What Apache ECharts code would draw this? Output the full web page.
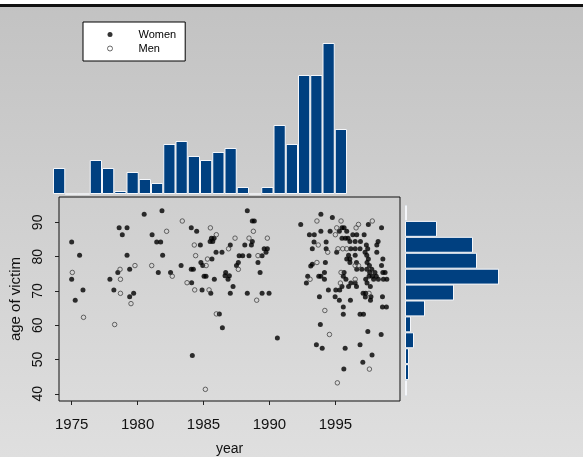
<!DOCTYPE html>
<html>
<head>
<meta charset="utf-8">
<script src="https://cdn.jsdelivr.net/npm/echarts@6/dist/echarts.min.js"></script>
<style>
  html, body { margin: 0; padding: 0; background: #d0d0d0; }
  #chart { width: 583px; height: 457px; }
</style>
</head>
<body>
<div id="chart"></div>
<script>
// year / age ticks
const yearTicks = [1975, 1980, 1985, 1990, 1995];
const ageTicks = [40, 50, 60, 70, 80, 90];

// top histogram: victims per year bin (relative height)
const yearBins = ['1', '2', '3', '4', '5', '6', '7', '8', '9', '10', '11', '12',
  '13', '14', '15', '16', '17', '18', '19', '20', '21', '22', '23', '24'];
const yearHist = [26, 0, 0, 34, 26, 3, 22, 15, 11, 50, 53, 38, 34, 42, 46, 7, 0, 7, 69, 50, 119, 119, 151, 65];

// right histogram: victims per age bin, bottom (young) to top (old)
const ageBins = ['1', '2', '3', '4', '5', '6', '7', '8', '9', '10', '11', '12'];
const ageHist = [2, 4, 4, 9, 6, 20, 49, 94, 72, 68, 32, 2];

// [year, age]
const women = [
  [1980.5, 92.4], [1981.85, 93.4], [1978.6, 88.4], [1979.2, 88.4], [1978.84, 86.4], [1981.1, 86.4],
  [1981.45, 84.3], [1981.75, 84.3], [1975.0, 84.3], [1975.6, 80.4], [1979.2, 80.4], [1981.9, 80.4],
  [1978.5, 75.4], [1979.4, 76.3], [1981.57, 75.4], [1982.5, 75.4], [1975.0, 73.4], [1977.9, 73.4],
  [1975.86, 70.3], [1978.2, 70.3], [1979.7, 69.3], [1979.4, 68.3], [1975.27, 67.3],
  [1988.32, 93.4], [1988.7, 90.4], [1988.85, 90.4], [1984.07, 88.4], [1984.48, 87.4], [1985.6, 85.4],
  [1985.8, 85.4], [1985.5, 84.4], [1985.7, 84.4], [1988.7, 84.4], [1984.76, 83.4], [1987.03, 83.4],
  [1988.13, 83.4], [1988.63, 83.4], [1989.6, 82.3], [1989.84, 82.3], [1985.95, 81.3], [1986.4, 81.3],
  [1989.74, 81.3], [1987.7, 80.3], [1987.97, 80.3], [1988.45, 80.3], [1989.44, 80.3], [1985.64, 79.3],
  [1987.64, 78.3], [1989.13, 78.3], [1984.8, 78.3], [1984.94, 77.4], [1987.5, 77.4], [1983.3, 77.4],
  [1984.07, 76.3], [1984.23, 76.3], [1986.68, 75.4], [1986.96, 74.4], [1986.63, 74.4], [1989.29, 75.4],
  [1985.04, 74.3], [1985.19, 74.3], [1985.82, 73.4], [1986.86, 73.4], [1984.1, 72.4], [1987.24, 71.3],
  [1984.89, 70.3], [1985.55, 69.3], [1987.03, 69.3], [1988.32, 69.3], [1989.44, 69.3], [1989.97, 69.3],
  [1986.2, 63.3], [1986.43, 59.3], [1990.6, 56.3], [1984.15, 51.2],
  [1992.37, 89.4], [1993.9, 92.4], [1994.77, 91.4], [1993.03, 86.4], [1993.4, 86.4], [1993.9, 87.4],
  [1994.6, 87.4], [1995.3, 87.4], [1995.5, 88.4], [1995.66, 88.4], [1993.38, 84.3], [1994.3, 84.3],
  [1993.25, 82.3], [1994.3, 82.3], [1995.1, 81.3], [1994.24, 78.3], [1993.13, 77.3], [1993.25, 77.8],
  [1994.17, 75.4], [1993.74, 74.3], [1993.9, 74.3], [1992.9, 74.3], [1994.17, 73.4], [1992.8, 72.3],
  [1995.6, 74.3], [1994.47, 70.3], [1995.03, 70.3], [1995.33, 70.3], [1993.79, 68.3], [1994.98, 68.3],
  [1997.5, 89.4], [1998.5, 88.4], [1995.86, 87.4], [1996.32, 86.4], [1996.62, 86.4], [1997.18, 86.4],
  [1995.5, 85.4], [1995.76, 85.4], [1995.96, 85.4], [1996.1, 84.4], [1996.5, 84.4], [1996.9, 84.4],
  [1998.24, 84.4], [1997.35, 83.4], [1998.14, 83.4], [1996.17, 82.3], [1996.5, 82.3], [1996.87, 82.3],
  [1997.25, 81.3], [1998.14, 81.3], [1996.0, 80.4], [1996.5, 80.4], [1997.38, 80.4], [1997.5, 79.3],
  [1995.86, 79.3], [1996.1, 79.3], [1998.6, 79.3], [1996.1, 78.3], [1996.6, 78.3], [1997.4, 78.3],
  [1997.58, 77.4], [1998.5, 77.4], [1995.66, 75.4], [1996.62, 76.3], [1997.0, 76.3], [1997.38, 76.3],
  [1997.76, 76.3], [1997.6, 75.4], [1998.0, 75.4], [1998.6, 75.4], [1998.77, 75.4], [1997.8, 74.3],
  [1998.1, 74.3], [1995.8, 73.4], [1997.9, 73.4], [1998.26, 73.4], [1998.64, 73.4], [1998.9, 73.4],
  [1996.17, 72.3], [1996.5, 72.3], [1995.5, 71.3], [1996.0, 71.3], [1996.6, 71.3], [1997.1, 69.3],
  [1997.3, 69.3], [1998.57, 68.3], [1997.7, 68.3], [1997.45, 82.3], [1997.3, 73.4], [1997.55, 74.3],
  [1997.4, 72.3], [1997.65, 71.3],
  [1995.3, 67.3], [1996.14, 67.3], [1997.27, 68.2], [1997.66, 67.3], [1995.6, 65.3], [1995.6, 63.2],
  [1996.87, 63.2], [1997.13, 63.2], [1998.57, 65.3], [1998.87, 65.3], [1993.86, 60.2], [1997.46, 58.2],
  [1998.47, 57.3], [1993.56, 54.3], [1994.0, 53.3], [1995.74, 53.3], [1996.87, 54.3], [1997.78, 51.3],
  [1997.08, 49.2], [1995.64, 47.2]
];

const men = [
  [1982.2, 87.4], [1975.05, 75.4], [1978.67, 76.3], [1979.8, 77.4], [1981.07, 77.4], [1982.63, 74.3],
  [1978.7, 73.4], [1978.7, 69.3], [1979.5, 66.3], [1975.9, 62.3], [1978.26, 60.2],
  [1983.39, 90.4], [1985.52, 88.4], [1988.78, 87.4], [1985.97, 86.4], [1987.39, 85.4], [1988.45, 85.4],
  [1989.84, 85.4], [1984.3, 83.4], [1986.9, 82.3], [1984.4, 80.3], [1989.13, 80.3], [1985.3, 79.3],
  [1985.2, 77.4], [1987.64, 76.3], [1983.75, 72.4], [1984.33, 70.3], [1985.42, 70.3], [1989.03, 67.3],
  [1985.97, 63.3], [1985.14, 41.3],
  [1993.6, 90.4], [1995.43, 90.4], [1995.1, 88.4], [1995.0, 86.4], [1993.7, 83.4], [1994.42, 81.3],
  [1995.2, 82.3], [1995.56, 82.3], [1993.6, 78.3], [1993.08, 73.4], [1995.43, 75.4], [1995.38, 72.3],
  [1996.75, 89.4], [1997.8, 90.4], [1996.57, 88.4], [1995.86, 82.3], [1996.5, 77.4], [1996.75, 77.4],
  [1996.5, 73.4], [1997.55, 69.3],
  [1994.2, 64.3], [1994.55, 57.3], [1997.58, 47.2], [1995.15, 43.2]
];

const chart = echarts.init(document.getElementById('chart'), null, { renderer: 'canvas' });
const font = '"Liberation Sans", Arial, sans-serif';
const barBlue = '#004080';

const option = {
  animation: false,
  backgroundColor: new echarts.graphic.LinearGradient(0, 0, 0, 1, [
    { offset: 0, color: '#c2c2c2' },
    { offset: 1, color: '#dfdfdf' },
  ]),
  textStyle: { fontFamily: font, color: '#000' },
  graphic: [
    { type: 'rect', left: 0, top: 0, shape: { width: 583, height: 4 }, style: { fill: '#fff' } },
    { type: 'rect', left: 0, top: 4, shape: { width: 583, height: 3 }, style: { fill: '#111' } },
  ],
  legend: {
    left: 83,
    top: 22,
    orient: 'vertical',
    padding: [7, 9, 7, 24],
    itemGap: 3,
    itemWidth: 5,
    itemHeight: 5,
    backgroundColor: '#fff',
    borderColor: '#000',
    borderWidth: 1,
    borderRadius: 0,
    textStyle: { fontSize: 11, color: '#000', fontFamily: font, padding: [0, 0, 0, 21] },
    data: [
      { name: 'Women', icon: 'circle' },
      { name: 'Men', icon: 'circle', itemStyle: { color: 'rgba(0,0,0,0)', borderColor: '#444', borderWidth: 1 } },
    ],
  },
  grid: [
    { left: 59, top: 197, width: 341, height: 206, show: true, borderColor: '#111', borderWidth: 1, backgroundColor: 'transparent' },
    { left: 53, top: 43, width: 294, height: 151 },
    { left: 405, top: 205, width: 100, height: 191 },
  ],
  xAxis: [
    {
      gridIndex: 0,
      type: 'value',
      min: 1974.04,
      max: 1999.9,
      axisLine: { show: false },
      splitLine: { show: false },
      axisTick: { show: true, length: 4, customValues: yearTicks, lineStyle: { color: '#222' } },
      axisLabel: {
        customValues: yearTicks,
        formatter: (v) => String(v),
        margin: 16,
        fontSize: 15,
        color: '#111',
        fontFamily: font,
      },
      name: 'year',
      nameLocation: 'middle',
      nameGap: 41,
      nameTextStyle: { fontSize: 14, color: '#111', fontFamily: font },
    },
    { gridIndex: 1, type: 'category', data: yearBins, show: false },
    { gridIndex: 2, type: 'value', min: 0, max: 100, show: false },
  ],
  yAxis: [
    {
      gridIndex: 0,
      type: 'value',
      min: 37.9,
      max: 97.4,
      axisLine: { show: false },
      splitLine: { show: false },
      axisTick: { show: true, length: 4, customValues: ageTicks, lineStyle: { color: '#222' } },
      axisLabel: { customValues: ageTicks, rotate: 90, margin: 14, fontSize: 14, color: '#111', fontFamily: font },
      name: 'age of victim',
      nameLocation: 'middle',
      nameGap: 34,
      nameTextStyle: { fontSize: 15, color: '#111', fontFamily: font },
    },
    { gridIndex: 1, type: 'value', min: 0, max: 151, show: false },
    { gridIndex: 2, type: 'category', data: ageBins, show: false },
  ],
  series: [
    {
      name: 'Women',
      type: 'scatter',
      xAxisIndex: 0,
      yAxisIndex: 0,
      symbol: 'circle',
      symbolSize: 5,
      itemStyle: { color: '#000' },
      data: women,
    },
    {
      name: 'Men',
      type: 'scatter',
      xAxisIndex: 0,
      yAxisIndex: 0,
      symbol: 'circle',
      symbolSize: 4.5,
      itemStyle: { color: 'rgba(0,0,0,0)', borderColor: '#444', borderWidth: 1 },
      data: men,
    },
    {
      type: 'bar',
      xAxisIndex: 1,
      yAxisIndex: 1,
      barWidth: '100%',
      itemStyle: { color: barBlue, borderColor: '#f4f6fa', borderWidth: 1 },
      data: yearHist,
    },
    {
      type: 'bar',
      xAxisIndex: 2,
      yAxisIndex: 2,
      barWidth: '100%',
      itemStyle: { color: barBlue, borderColor: '#f4f6fa', borderWidth: 1 },
      data: ageHist,
    },
  ],
};

chart.setOption(option);
</script>
</body>
</html>
